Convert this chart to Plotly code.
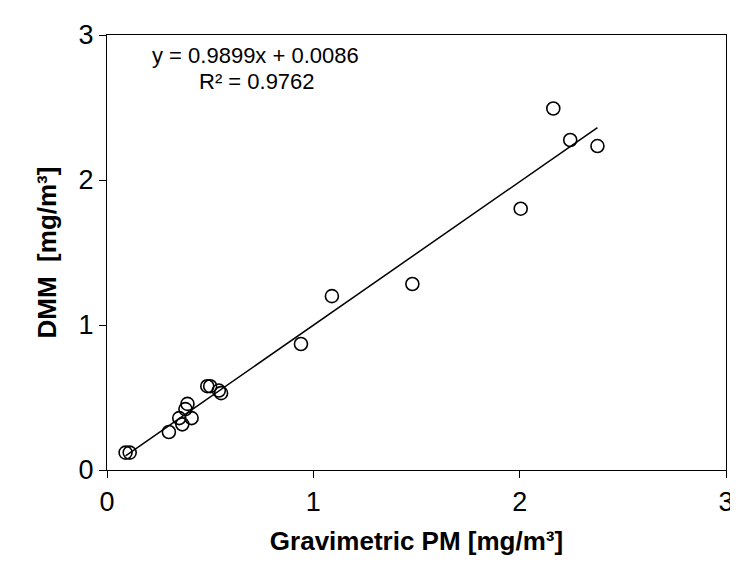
import plotly.graph_objects as go

# Gravimetric PM vs DMM, mg/m3
grav_pm = [0.09, 0.11, 0.30, 0.35, 0.365, 0.38, 0.39, 0.41, 0.486, 0.50, 0.542, 0.553,
           0.94, 1.09, 1.48, 2.005, 2.163, 2.245, 2.377]
dmm = [0.12, 0.12, 0.262, 0.358, 0.315, 0.42, 0.456, 0.358, 0.578, 0.578, 0.548, 0.53,
       0.869, 1.199, 1.283, 1.802, 2.493, 2.276, 2.234]

slope = 0.9899
intercept = 0.0086
r2 = 0.9762

font = "Arial, Liberation Sans, sans-serif"

fit_x = [min(grav_pm), max(grav_pm)]
fit_y = [slope * v + intercept for v in fit_x]

fig = go.Figure()
fig.add_trace(go.Scatter(
    x=fit_x, y=fit_y, mode="lines",
    line=dict(color="black", width=1.5),
    showlegend=False, hoverinfo="skip"
))
fig.add_trace(go.Scatter(
    x=grav_pm, y=dmm, mode="markers",
    marker=dict(symbol="circle-open", size=13, color="black", line=dict(width=1.6)),
    showlegend=False
))

axis_style = dict(
    range=[0, 3], dtick=1, showgrid=False, zeroline=False,
    showline=True, linecolor="black", linewidth=1.3, mirror=True,
    ticks="outside", ticklen=7, tickcolor="black", tickwidth=1.3,
    tickfont=dict(family=font, size=27, color="black"),
)

fig.update_xaxes(
    **axis_style,
    title=dict(text="<b>Gravimetric PM [mg/m³]</b>",
               font=dict(family=font, size=26, color="black"), standoff=16),
)
fig.update_yaxes(
    **axis_style,
    title=dict(text="<b>DMM&nbsp; [mg/m³]</b>",
               font=dict(family=font, size=26, color="black"), standoff=14),
)

fig.add_annotation(x=0.207, y=2.86, xref="x", yref="y", xanchor="left", yanchor="middle",
                   text=f"y = {slope}x + {intercept}", showarrow=False,
                   font=dict(family=font, size=22, color="black"))
fig.add_annotation(x=0.4375, y=2.68, xref="x", yref="y", xanchor="left", yanchor="middle",
                   text=f"R² = {r2}", showarrow=False,
                   font=dict(family=font, size=22, color="black"))

fig.update_layout(
    width=738, height=565,
    margin=dict(l=99, r=15, t=20, b=103),
    plot_bgcolor="white", paper_bgcolor="white",
    font=dict(family=font, color="black"),
)

fig.write_html("out.html")
